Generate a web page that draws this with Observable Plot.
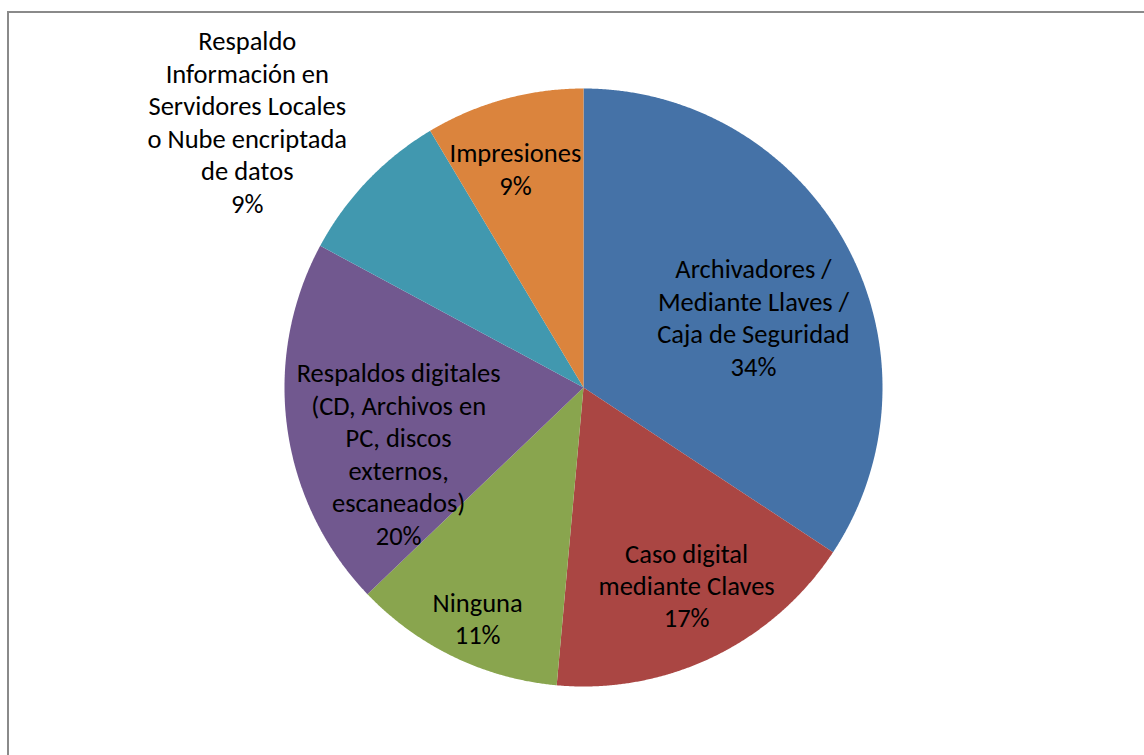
<!DOCTYPE html>
<html><head><meta charset="utf-8">
<script src="https://cdn.jsdelivr.net/npm/d3@7"></script>
<script src="https://cdn.jsdelivr.net/npm/@observablehq/plot@0.6"></script>
<style>
body{margin:0;background:#fff;}
#wrap{position:relative;width:1144px;height:755px;overflow:hidden;background:#fff;}
#border{position:absolute;left:7px;top:11px;width:2000px;height:2000px;border-left:2px solid #8a8a8a;border-top:2px solid #8a8a8a;}
#chart{position:absolute;left:0;top:0;}
</style></head><body>
<div id="wrap"><div id="border"></div><div id="chart"></div></div>
<script>
// ---- data ----
const categories = [
  "Archivadores /\nMediante Llaves /\nCaja de Seguridad",
  "Caso digital\nmediante Claves",
  "Ninguna",
  "Respaldos digitales\n(CD, Archivos en\nPC, discos\nexternos,\nescaneados)",
  "Respaldo\nInformación en\nServidores Locales\no Nube encriptada\nde datos",
  "Impresiones"
];
const counts = [12, 6, 4, 7, 3, 3];

// ---- styles / layout ----
const colors = ["#4572A7", "#AA4643", "#89A54E", "#71588F", "#4198AF", "#DB843D"];
const labelRadius = [0.616, 0.744, 0.847, 0.656, 1.435, 0.769];   // fraction of pie radius
const labelTurn   = [5.6, -1.9, -1.0, -11.8, -5.3, -1.8];          // degrees from slice mid-angle
const W = 1144, H = 755, CX = 583, CY = 387, R = 299;

const total = d3.sum(counts);
const arcs = d3.pie().sort(null).startAngle(0).endAngle(2 * Math.PI)(counts);

const slicePts = [];
arcs.forEach((a, i) => {
  const name = categories[i];
  slicePts.push({name, x: 0, y: 0});
  const n = Math.max(2, Math.ceil((a.endAngle - a.startAngle) / (Math.PI / 720)));
  for (let k = 0; k <= n; k++) {
    const t = a.startAngle + (a.endAngle - a.startAngle) * k / n;
    slicePts.push({name, x: Math.sin(t), y: Math.cos(t)});
  }
  slicePts.push({name, x: 0, y: 0});
});

const labels = arcs.map((a, i) => {
  const mid = (a.startAngle + a.endAngle) / 2 + labelTurn[i] * Math.PI / 180;
  const r = labelRadius[i];
  return {
    x: r * Math.sin(mid),
    y: r * Math.cos(mid),
    text: categories[i] + "\n" + Math.round(counts[i] / total * 100) + "%"
  };
});

const chart = Plot.plot({
  width: W, height: H,
  margin: 0,
  style: {background: "transparent", overflow: "visible"},
  x: {domain: [-CX / R, (W - CX) / R], axis: null},
  y: {domain: [-(H - CY) / R, CY / R], axis: null},
  color: {domain: categories, range: colors},
  marks: [
    Plot.line(slicePts, {x: "x", y: "y", z: "name", fill: "name", stroke: "none", curve: "linear"}),
    Plot.text(labels, {
      x: "x", y: "y", text: "text",
      fontSize: 26.5, lineHeight: 1.226, fill: "black",
      fontFamily: "Calibri, Carlito, Lato, 'Open Sans', sans-serif"
    })
  ]
});
document.getElementById("chart").appendChild(chart);
</script>
</body></html>
